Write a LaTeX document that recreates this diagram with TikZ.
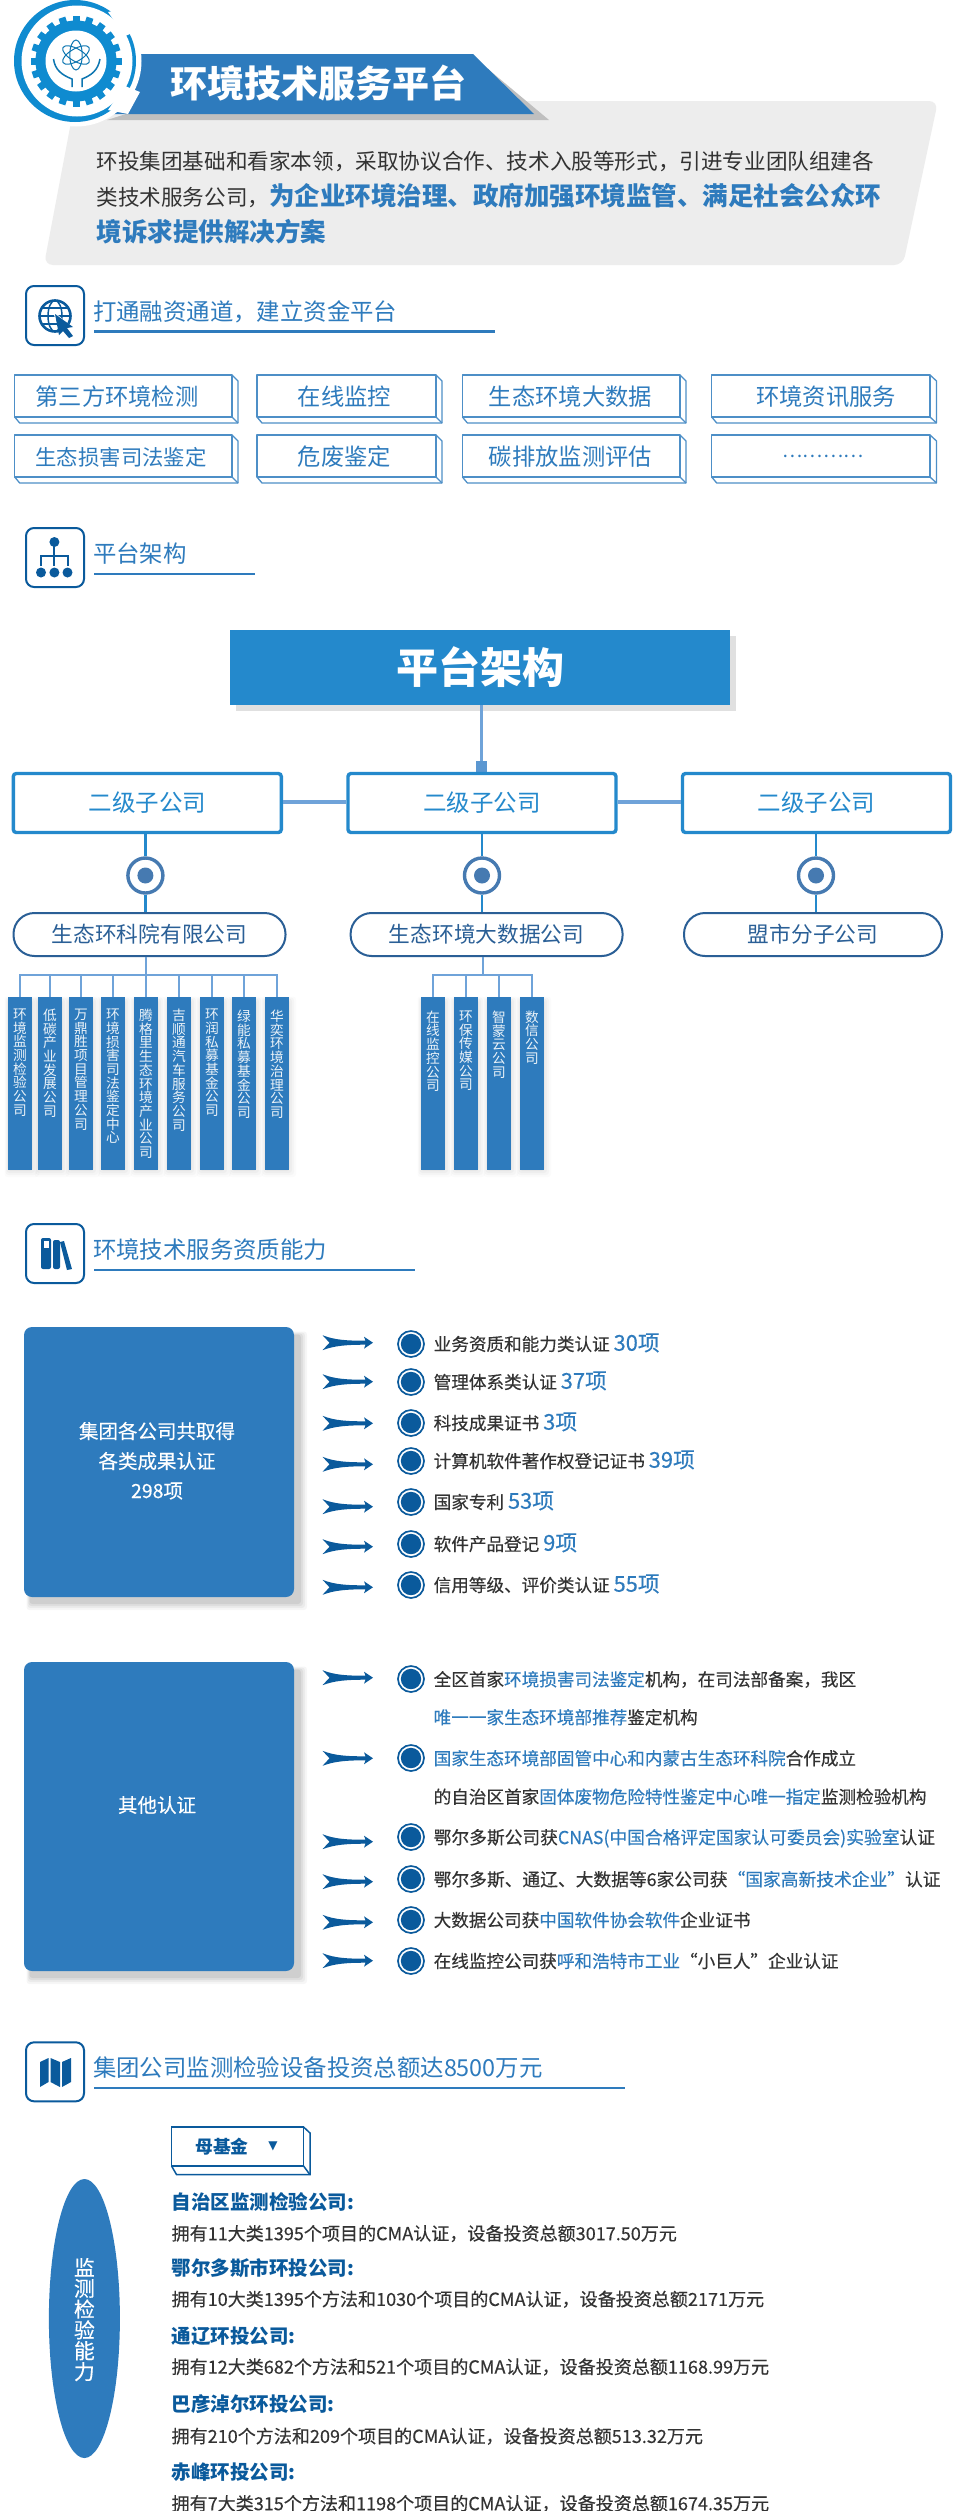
\documentclass[tikz,border=0pt]{standalone}
\usepackage{fontspec}
\setmainfont{Noto Sans CJK SC}
\newfontfamily\medf[FakeBold=0.3]{Noto Sans CJK SC}
\newfontfamily\symf{DejaVu Sans}
\XeTeXlinebreaklocale "zh"
\XeTeXlinebreakskip=0pt plus 0pt
\usetikzlibrary{shapes.geometric,calc}
\definecolor{tb}{HTML}{2E7BBD}
\definecolor{sky}{HTML}{2489CC}
\definecolor{navy}{HTML}{0A5A9C}
\definecolor{deep}{HTML}{2A5F96}
\definecolor{link}{HTML}{6FA3D9}
\definecolor{dark}{HTML}{333333}
\definecolor{panelg}{HTML}{EDEDED}
\definecolor{logoc}{HTML}{0F8BD0}
\newcommand\fsz[1]{\fontsize{#1pt}{#1pt}\selectfont}
\tikzset{
  lbl/.style={inner sep=0pt,outer sep=0pt},
  iconbox/.style={draw=navy,line width=2pt,rounded corners=8pt,fill=white,minimum width=58pt,minimum height=59pt,inner sep=0pt},
  sectxt/.style={lbl,anchor=west,text=tb,font=\fsz{23.4}},
  secline/.style={draw=tb,line width=2.6pt},
  tagtxt/.style={lbl,text=tb},
  tagline/.style={draw=tb!85!white,line width=1.3pt,line join=round},
  lvbox/.style={draw=sky,line width=3.4pt,rounded corners=3pt,fill=white,minimum width=268pt,minimum height=59pt,inner sep=0pt,text=sky,font=\fsz{23.5}},
  pillb/.style={draw=deep,line width=2pt,rounded corners=21pt,fill=white,minimum height=43pt,inner sep=0pt,text=deep,font=\fsz{21.7}},
  hublink/.style={draw=sky,line width=2.6pt},
  treel/.style={draw=link,line width=2pt},
  barbox/.style={fill=tb,minimum width=24pt,minimum height=173pt,anchor=north,inner sep=0pt},
  bartxt/.style={lbl,anchor=north,text width=15pt,align=center,text=white!90!tb,font=\fsz{13.7}},
  rowt/.style={lbl,anchor=base west,yshift=-6.7pt,text=dark,font=\medf\fsz{17.6}},
  bigbox/.style={fill=tb,rounded corners=8pt,minimum width=270pt,inner sep=0pt},
  boxt/.style={lbl,text=white,font=\medf\fsz{19.5}},
  headt/.style={lbl,anchor=base west,yshift=-7.4pt,text=navy,font=\bfseries\fsz{19.5}},
  bodyt/.style={lbl,anchor=base west,yshift=-6.9pt,text=dark,font=\medf\fsz{18.05}},
}
\newcommand\softshadow[5]{% x0 y0 x1 y1 opacity
  \foreach \g/\o in {7/.7,5/.9,3/1.1,1/1.3}{
    \fill[black,opacity=\o*#5,rounded corners=3pt] ($(#1,#2)+(-\g*.5,-\g*.5)$) rectangle ($(#3,#4)+(\g,\g)$);
  }}
\newcommand\arrowmark[1]{%
  \fill[navy,shift={(322.5,#1)}] (0,-7.5) .. controls (12,-2.6) and (25,-2) .. (43,-2) -- (41.5,-6) -- (50.5,0) -- (41.5,6) -- (43,2) .. controls (25,2) and (12,2.8) .. (0,7.5) -- (7,0) -- cycle;}
\newcommand\bulletmark[2]{%
  \node[circle,draw=navy,line width=1.7pt,fill=white,minimum size=26pt,inner sep=0pt] (#1) at (411,#2) {};
  \fill[navy] (#1.center) circle (10.2);}
% style x0 y0 xf xr yf yb
\newcommand\tagshape[7]{%
  \draw[#1] (#2,#3) rectangle (#4,#6);
  \draw[#1] (#4,#3) -- (#5,#3+6) -- (#5,#7) -- (#2+5,#7) -- (#2,#6);
  \draw[#1] (#4,#6) -- (#5,#7);}
% head: name ytop text ytext xend yline
\newcommand\sechead[6]{%
  \node[iconbox] (#1box) at (55,#2+29.5) {};
  \node[sectxt] (#1txt) at (93,#4) {#3};
  \coordinate (#1a) at (94,#6);
  \coordinate (#1b) at (#5,#6);
  \draw[secline] (#1a) -- (#1b);}
\begin{document}
\begin{tikzpicture}[x=1pt,y=-1pt]
\useasboundingbox (0,0) rectangle (958,2511);
\fill[white] (0,0) rectangle (958,2511);
% grey panel
\fill[panelg,rounded corners=9pt] (75,101) -- (938,101) -- (903,265) -- (44,265) -- cycle;
% banner
\fill[black!25] (107,120) -- (549,120) -- (476,59) -- (300,59) -- cycle;
\fill[tb] (110,114) -- (534,114) -- (473,54) -- (110,54) -- cycle;
% logo
\fill[white] (76,61) circle (65.5);
\fill[logoc] (75,61) circle (61);
\fill[white] (77,61) circle (55.5);
\fill[white] (128,8) -- (140,30) -- (125,36) -- (108,12) -- cycle;
\fill[white] (128,114) -- (140,92) -- (125,86) -- (108,110) -- cycle;
\foreach \a in {0,18,...,342}{
  \fill[logoc,rotate around={\a:(76,61)}] (72.5,15.5) rectangle (79.5,25);}
\fill[logoc] (76,61) circle (40.5);
\fill[white] (76,61) circle (30.5);
\foreach \a in {30,90,150}{
  \draw[logoc!85!black,line width=1pt,rotate around={\a:(76,55)}] (76,55) ellipse (15 and 6.2);}
\draw[logoc!85!black,line width=1.5pt] (53.5,59) .. controls (55,70) and (62,75) .. (72,79) -- (72,87);
\draw[logoc!85!black,line width=1.5pt] (100,59) .. controls (98,70) and (92,75) .. (82,79) -- (82,87);
% title
\node[lbl,text=white,font=\bfseries\fsz{37}] (title) at (318,83) {环境技术服务平台};
\node[lbl,anchor=base west,yshift=-8.2pt,text=dark,font=\fsz{21.6}] (p1) at (96.5,161) {环投集团基础和看家本领，采取协议合作、技术入股等形式，引进专业团队组建各};
\node[lbl,anchor=base west,yshift=-8.2pt,text=dark,font=\fsz{21.6}] (p2) at (96.5,197) {类技术服务公司，{\bfseries\color{tb}\fsz{25.5}为企业环境治理、政府加强环境监管、满足社会公众环}};
\node[lbl,anchor=base west,yshift=-9.6pt,text=tb,font=\bfseries\fsz{25.5}] (p3) at (96.5,232) {境诉求提供解决方案};
% section 1
\sechead{sa}{286}{打通融资通道，建立资金平台}{312}{495}{331.7}
\draw[navy,line width=2.6pt] (55,316) circle (15.5);
\draw[navy,line width=1.5pt] (55,316) ellipse (7 and 15.5);
\draw[navy,line width=1.5pt] (39.5,316) -- (70.5,316) (42,308) -- (68,308) (42,324) -- (68,324);
\fill[white] (52,310) -- (78,332) -- (64,340) -- cycle;
\fill[navy] (55,314) -- (73,327) -- (67,328) -- (73,336) -- (69,338) -- (63,331) -- (59,335) -- cycle;
\tagshape{tagline}{14.7}{375}{232}{238}{417}{423}
\tagshape{tagline}{257}{375}{436}{442}{417}{423}
\tagshape{tagline}{462.4}{375}{680}{686}{417}{423}
\tagshape{tagline}{711.7}{375}{930}{936.5}{417}{423}
\tagshape{tagline}{14.7}{435}{232}{238}{477}{483}
\tagshape{tagline}{257}{435}{436}{442}{477}{483}
\tagshape{tagline}{462.4}{435}{680}{686}{477}{483}
\tagshape{tagline}{711.7}{435}{930}{936.5}{477}{483}
\node[tagtxt,font=\fsz{23.3}] (t1) at (117,397) {第三方环境检测};
\node[tagtxt,font=\fsz{23.3}] (t2) at (344.5,397) {在线监控};
\node[tagtxt,font=\fsz{23.3}] (t3) at (570.5,397) {生态环境大数据};
\node[tagtxt,font=\fsz{23.3}] (t4) at (826,397) {环境资讯服务};
\node[tagtxt,font=\fsz{21.4}] (t5) at (121,457) {生态损害司法鉴定};
\node[tagtxt,font=\fsz{23.3}] (t6) at (344.5,457) {危废鉴定};
\node[tagtxt,font=\fsz{23.3}] (t7) at (570.5,457) {碳排放监测评估};
\node[tagtxt,font=\fsz{19}] (t8) at (823,456) {…………};
% section 2
\sechead{sb}{528}{平台架构}{554}{255}{574}
\fill[navy] (54.4,542) circle (5);
\draw[navy,line width=2pt] (54.4,542) -- (54.4,556) (41,566) -- (41,556) -- (67.5,556) -- (67.5,566) (54.4,556) -- (54.4,566);
\foreach \x in {41,54.4,67.5}{\fill[navy] (\x,572.5) circle (5);}
% platform
\fill[black!12] (236,636) rectangle (736,711);
\node[fill=sky,minimum width=500pt,minimum height=75pt,inner sep=0pt,text=white,font=\bfseries\fsz{42}] (plat) at (480,667.5) {平台架构};
\node[fill=link!70!tb,minimum width=11pt,minimum height=12pt,inner sep=0pt] (sq) at (481.5,767) {};
\draw[link,line width=3pt] (sq |- plat.south) -- (sq.north);
\node[lvbox] (ba) at (147.3,803) {二级子公司};
\node[lvbox] (bb) at (482,803) {二级子公司};
\node[lvbox] (bc) at (816.5,803) {二级子公司};
\draw[link,line width=4pt] ([yshift=1.2pt]ba.east) -- ([yshift=1.2pt]bb.west);
\draw[link,line width=4pt] ([yshift=1.2pt]bb.east) -- ([yshift=1.2pt]bc.west);
\node[pillb,minimum width=272pt] (pa) at (149.5,934.5) {\raisebox{-1pt}{生态环科院有限公司}};
\node[pillb,minimum width=272pt] (pb) at (486.6,934.5) {\raisebox{-1pt}{生态环境大数据公司}};
\node[pillb,minimum width=258pt] (pc) at (813,934.5) {\raisebox{-1pt}{盟市分子公司}};
\foreach \n/\x in {a/145.4,b/482,c/816}{
  \node[circle,draw=deep!60!link,line width=3.4pt,fill=white,minimum size=35pt,inner sep=0pt] (h\n) at (\x,875.5) {};
  \fill[deep!60!link] (h\n.center) circle (8);
  \draw[hublink] (h\n |- b\n.south) -- (h\n.north);
  \draw[hublink] (h\n.south) -- (h\n |- p\n.north);
}
% bars
\foreach \n/\cx/\ty/\t in {
 1/20/1008.7/环境监测检验公司,2/50/1009/低碳产业发展公司,3/81/1009/万鼎胜项目管理公司,
 4/113/1009/环境损害司法鉴定中心,5/146/1009/腾格里生态环境产业公司,6/179/1009/吉顺通汽车服务公司,
 7/212/1009/环润私募基金公司,8/244/1010/绿能私募基金公司,9/277/1010/华奕环境治理公司,
 10/433/1010.7/在线监控公司,11/466/1010.7/环保传媒公司,12/499/1011/智蒙云公司,13/532/1010.7/数信公司}{
  \softshadow{\cx-12}{1000}{\cx+12}{1170}{.025}
  \node[barbox] (bar\n) at (\cx,997) {};
  \node[bartxt] (bt\n) at (\cx,\ty) {\t};
}
\coordinate (ja) at (146,975);
\coordinate (jb) at (483,975);
\draw[treel] (ja |- pa.south) -- (ja);
\draw[treel] (jb |- pb.south) -- (jb);
\draw[treel] (bar1.north) |- (ja) (bar9.north) |- (ja);
\foreach \n in {2,...,8}{\draw[treel] (bar\n.north) -- (bar\n |- ja);}
\draw[treel] (bar10.north) |- (jb) (bar13.north) |- (jb);
\foreach \n in {11,12}{\draw[treel] (bar\n.north) -- (bar\n |- jb);}
% section 3
\sechead{sc}{1224}{环境技术服务资质能力}{1250}{415}{1270}
\fill[navy,rounded corners=2pt] (41,1238) rectangle (51,1269);
\fill[white] (43.5,1241) rectangle (48.5,1248);
\fill[navy,rounded corners=2pt] (53,1240) rectangle (60,1269);
\fill[navy] (60,1242) -- (64,1241) -- (72,1269) -- (67,1270) -- cycle;
\softshadow{30}{1335}{300}{1603}{.05}
\node[bigbox,minimum height=270pt] (ba1) at (159,1462) {};
\node[boxt] (ba1a) at (157,1431) {集团各公司共取得};
\node[boxt] (ba1b) at (157,1461) {各类成果认证};
\node[boxt] (ba1c) at (157,1491) {298项};
\foreach \y in {1342.7,1381.7,1423.3,1464.3,1506.7,1546.7,1587.3}{\arrowmark{\y}}
\foreach \n/\y in {1/1344,2/1382,3/1423,4/1461,5/1502,6/1544,7/1585}{\bulletmark{bu\n}{\y}}
\newcommand\numv[1]{{\color{tb}\fsz{21.8}#1}}
\node[rowt] (r1) at (433.7,1344) {业务资质和能力类认证 \numv{30项}};
\node[rowt] (r2) at (433.7,1382) {管理体系类认证 \numv{37项}};
\node[rowt] (r3) at (433.7,1423) {科技成果证书 \numv{3项}};
\node[rowt] (r4) at (433.7,1461) {计算机软件著作权登记证书 \numv{39项}};
\node[rowt] (r5) at (433.7,1502) {国家专利 \numv{53项}};
\node[rowt] (r6) at (433.7,1544) {软件产品登记 \numv{9项}};
\node[rowt] (r7) at (433.7,1585) {信用等级、评价类认证 \numv{55项}};
% other
\softshadow{30}{1670}{300}{1977}{.05}
\node[bigbox,minimum height=309pt] (bb1) at (159,1816.5) {};
\node[boxt] (bb1a) at (157,1805) {其他认证};
\foreach \y in {1677.7,1758.3,1841.7,1881.7,1922.3,1960.7}{\arrowmark{\y}}
\foreach \n/\y in {8/1679,9/1758,10/1837,11/1879,12/1920,13/1961}{\bulletmark{bu\n}{\y}}
\newcommand\hl[1]{{\color{tb}#1}}
\node[rowt] (s1) at (433.7,1679.3) {全区首家\hl{环境损害司法鉴定}机构，在司法部备案，我区};
\node[rowt] (s2) at (433.7,1717.3) {\hl{唯一一家生态环境部推荐}鉴定机构};
\node[rowt] (s3) at (433.7,1758.3) {\hl{国家生态环境部固管中心和内蒙古生态环科院}合作成立};
\node[rowt] (s4) at (433.7,1796.7) {的自治区首家\hl{固体废物危险特性鉴定中心唯一指定}监测检验机构};
\node[rowt,font=\medf\fsz{17.75}] (s5) at (433.7,1837.3) {鄂尔多斯公司获\hl{CNAS(中国合格评定国家认可委员会)实验室}认证};
\node[rowt,font=\medf\fsz{17.75}] (s6) at (433.7,1879.3) {鄂尔多斯、通辽、大数据等6家公司获\hl{“国家高新技术企业”}认证};
\node[rowt] (s7) at (433.7,1920) {大数据公司获\hl{中国软件协会软件}企业证书};
\node[rowt] (s8) at (433.7,1961) {在线监控公司获\hl{呼和浩特市工业}“小巨人”企业认证};
% section 4
\sechead{sd}{2042.3}{集团公司监测检验设备投资总额达8500万元}{2067.7}{625}{2088}
\fill[navy] (40,2062) -- (48.5,2058) -- (48.5,2082) -- (40,2087) -- cycle;
\fill[navy] (50.5,2058) -- (60,2062) -- (60,2087) -- (50.5,2082) -- cycle;
\fill[navy] (62,2062) -- (71,2058) -- (71,2082) -- (62,2087) -- cycle;
% fund tag
\tagshape{draw=navy,line width=1.5pt}{171.6}{2127}{303.6}{310}{2166}{2174.7}
\node[lbl,text=navy,font=\bfseries\fsz{17.8}] (fund) at (222,2146.7) {母基金};
\node[lbl,text=navy,font=\symf\fsz{12}] (fundm) at (273,2146) {▼};
% ellipse
\node[ellipse,fill=tb,minimum width=71pt,minimum height=279pt,inner sep=0pt] (ell) at (84.4,2318.5) {};
\node[lbl,anchor=north,text width=21.5pt,align=center,text=white,font=\medf\fsz{20.8}] (ellt) at (84.4,2258) {监测检验能力};
% companies
\node[headt] (h1) at (171.6,2201.7) {自治区监测检验公司:};
\node[bodyt] (b1) at (171.6,2233.3) {拥有11大类1395个项目的CMA认证，设备投资总额3017.50万元};
\node[headt] (h2) at (171.6,2267.7) {鄂尔多斯市环投公司:};
\node[bodyt] (b2) at (171.6,2299) {拥有10大类1395个方法和1030个项目的CMA认证，设备投资总额2171万元};
\node[headt] (h3) at (171.6,2335.7) {通辽环投公司:};
\node[bodyt] (b3) at (171.6,2366.7) {拥有12大类682个方法和521个项目的CMA认证，设备投资总额1168.99万元};
\node[headt] (h4) at (171.6,2404.3) {巴彦淖尔环投公司:};
\node[bodyt] (b4) at (171.6,2436) {拥有210个方法和209个项目的CMA认证，设备投资总额513.32万元};
\node[headt] (h5) at (171.6,2472.3) {赤峰环投公司:};
\node[bodyt] (b5) at (171.6,2503.3) {拥有7大类315个方法和1198个项目的CMA认证，设备投资总额1674.35万元};
\end{tikzpicture}
\end{document}
